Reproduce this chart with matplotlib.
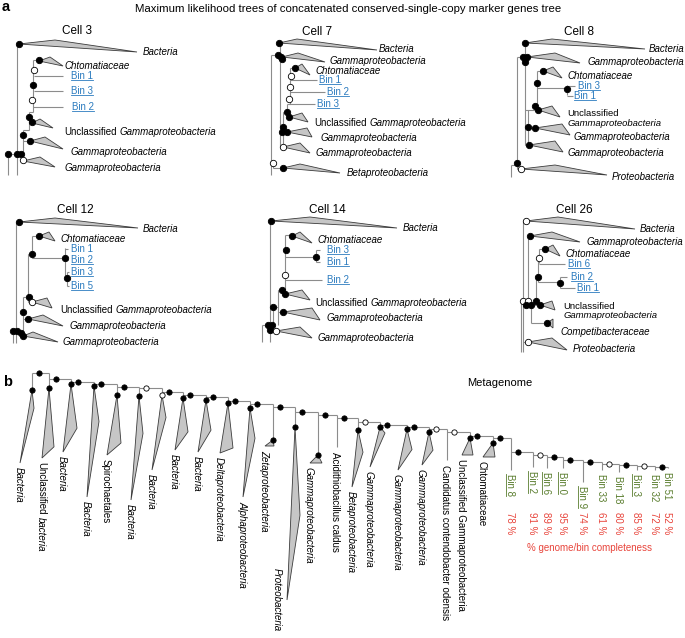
import matplotlib
matplotlib.use("Agg")
import matplotlib.pyplot as plt
from matplotlib.patches import Polygon

plt.rcParams['font.family'] = ['Liberation Sans', 'DejaVu Sans']

LINE = '#8c8c8c'
TRI_FACE = '#c6c6c6'
TRI_EDGE = '#3c3c3c'
BLUE = '#2b7bbf'
GREEN = '#5a7d2e'
RED = '#e8453c'

# ---- panel a: one small tree per cell (local pixel units inside each panel)
cell_titles = ["Cell 3", "Cell 7", "Cell 8", "Cell 12", "Cell 14", "Cell 26"]
cell_offsets = [(0, 0), (230, 0), (455, 0), (0, 205), (230, 205), (455, 205)]
cell_title_pos = [(77, 31), (87, 32), (124, 32), (75, 5), (97, 5), (119, 5)]

# branches: (x0, y0, x1, y1)
cell3_segs = [(17, 44, 17, 175), (8, 154, 8, 175), (8, 154, 23, 154), (17, 44, 19, 44),
              (23, 130, 23, 161), (23, 141, 30, 141), (23, 130, 29, 130), (29, 112, 29, 130),
              (29, 122, 32, 122), (29, 112, 33, 112), (33, 60, 33, 112), (33, 60, 39, 60)]
cell7_segs = [(41, 55, 41, 175), (41, 55, 50, 55), (50, 43, 50, 147), (41, 163, 43, 163),
              (43, 163, 43, 168), (43, 168, 53, 168), (60, 68, 60, 104), (60, 68, 65, 68),
              (57, 104, 57, 117), (57, 104, 60, 104), (53, 112, 53, 147), (53, 112, 57, 112),
              (57, 117, 59, 117), (53, 132, 57, 132), (50, 147, 53, 147), (50, 127, 53, 127)]
cell8_segs = [(62, 57, 62, 169), (56, 165, 56, 177), (56, 165, 62, 165), (62, 57, 70, 57),
              (70, 43, 70, 145), (62, 169, 66, 169), (82, 71, 82, 110), (82, 71, 88, 71),
              (82, 88, 112, 88), (112, 85, 112, 95), (73, 110, 73, 145), (70, 110, 83, 110),
              (73, 128, 80, 128), (70, 145, 74, 145)]
cell12_segs = [(16, 17, 16, 138), (13, 126, 13, 138), (13, 126, 23, 126), (16, 17, 19, 17),
               (32, 31, 32, 53), (32, 31, 39, 31), (32, 53, 65, 53), (65, 43, 65, 73),
               (65, 73, 67, 73), (67, 67, 67, 81), (28, 49, 28, 97), (28, 49, 32, 49),
               (28, 97, 32, 97), (23, 92, 23, 131), (23, 92, 28, 92), (23, 114, 28, 114)]
cell14_segs = [(40, 16, 40, 137), (32, 120, 32, 137), (32, 120, 43, 120), (40, 16, 41, 16),
               (55, 30, 55, 85), (55, 30, 62, 30), (55, 52, 86, 52), (86, 45, 86, 57),
               (48, 85, 48, 120), (48, 85, 55, 85), (52, 89, 55, 89), (43, 102, 43, 126),
               (43, 102, 48, 102), (48, 107, 53, 107), (40, 126, 46, 126)]
cell26_segs = [(68, 16, 68, 147), (66, 97, 66, 147), (68, 16, 71, 16), (73, 31, 73, 100),
               (73, 31, 75, 31), (84, 44, 84, 58), (84, 44, 90, 44), (83, 53, 83, 77),
               (83, 77, 105, 77), (105, 72, 105, 83), (81, 72, 81, 100), (81, 72, 83, 72),
               (76, 100, 76, 118), (76, 118, 92, 118), (68, 137, 73, 137), (73, 100, 85, 100)]

# support values: (x, y, filled)
cell3_dots = [(19, 44, 1), (39, 60, 1), (34, 70, 0), (33, 85, 1), (32, 100, 0), (29, 117, 1),
              (32, 122, 1), (23, 135, 1), (30, 141, 1), (8, 154, 1), (17, 154, 1), (21, 154, 1),
              (23, 160, 0)]
cell7_dots = [(49, 43, 1), (48, 55, 1), (51, 57, 1), (52, 59, 1), (65, 68, 1), (61, 76, 0),
              (60, 87, 0), (59, 99, 0), (57, 112, 1), (59, 117, 1), (53, 127, 1), (52, 132, 1),
              (57, 132, 1), (53, 147, 0), (43, 163, 0), (53, 168, 1)]
cell8_dots = [(70, 43, 1), (68, 57, 1), (72, 57, 1), (70, 62, 1), (88, 71, 1), (82, 83, 1),
              (112, 89, 1), (80, 106, 1), (83, 110, 1), (73, 127, 1), (80, 128, 1), (74, 145, 1),
              (62, 163, 1), (66, 169, 0)]
cell12_dots = [(19, 17, 1), (39, 31, 1), (32, 49, 1), (65, 53, 1), (67, 73, 1), (29, 92, 1),
               (32, 97, 0), (23, 107, 1), (28, 114, 1), (13, 126, 1), (17, 126, 1), (21, 128, 1),
               (23, 131, 1)]
cell14_dots = [(41, 16, 1), (62, 31, 1), (56, 45, 1), (86, 52, 1), (55, 70, 0), (52, 85, 1),
               (55, 89, 1), (43, 102, 1), (53, 107, 1), (38, 120, 1), (42, 120, 1), (40, 125, 1),
               (46, 126, 0)]
cell26_dots = [(71, 16, 0), (75, 31, 1), (90, 44, 1), (84, 53, 0), (83, 72, 1), (105, 78, 1),
               (68, 96, 0), (73, 96, 0), (71, 100, 1), (76, 100, 1), (81, 96, 1), (85, 100, 1),
               (92, 118, 1), (73, 137, 0)]

# collapsed clades: (name, node x, node y, upper x, tip x, tip y, label x, label y, style)
cell3_clades = [("Bacteria", 19, 44, 55, 137, 52, 143, 52, 'i'),
                ("Chtomatiaceae", 39, 61, 50, 63, 66, 64, 66, 'i'),
                ("Gammaproteobacteria", 32, 123, 40, 53, 128, 64, 132, 'u'),
                ("Gammaproteobacteria", 30, 141, 45, 63, 149, 71, 152, 'i'),
                ("Gammaproteobacteria", 23, 161, 40, 55, 167, 65, 168, 'i')]
cell7_clades = [("Bacteria", 49, 43, 67, 147, 50, 149, 49, 'i'),
                ("Gammaproteobacteria", 52, 57, 68, 95, 62, 100, 61, 'i'),
                ("Chtomatiaceae", 65, 68, 72, 80, 75, 85, 71, 'i'),
                ("Gammaproteobacteria", 59, 117, 72, 78, 122, 84, 123, 'u'),
                ("Gammaproteobacteria", 57, 132, 77, 82, 137, 91, 138, 'i'),
                ("Gammaproteobacteria", 53, 147, 70, 80, 153, 86, 153, 'i'),
                ("Betaproteobacteria", 53, 168, 70, 110, 173, 117, 173, 'i')]
cell8_clades = [("Bacteria", 70, 43, 97, 190, 49, 194, 49, 'i'),
                ("Gammaproteobacteria", 72, 57, 100, 125, 63, 133, 62, 'i'),
                ("Chtomatiaceae", 88, 71, 98, 107, 78, 112, 76, 'i'),
                ("Gammaproteobacteria", 83, 110, 97, 105, 117, 112, 118.5, 'u2'),
                ("Gammaproteobacteria", 80, 128, 107, 115, 135, 119, 137, 'i'),
                ("Gammaproteobacteria", 74, 145, 100, 108, 152, 113, 153, 'i'),
                ("Proteobacteria", 66, 169, 100, 152, 175, 157, 177, 'i')]
cell12_clades = [("Bacteria", 19, 17, 55, 138, 23, 143, 24, 'i'),
                 ("Chtomatiaceae", 39, 31, 49, 55, 36, 60, 34, 'i'),
                 ("Gammaproteobacteria", 32, 97, 47, 52, 103, 60, 105, 'u'),
                 ("Gammaproteobacteria", 28, 114, 43, 63, 121, 70, 121, 'i'),
                 ("Gammaproteobacteria", 23, 131, 33, 58, 137, 63, 137, 'i')]
cell14_clades = [("Bacteria", 41, 16, 80, 167, 23, 173, 23, 'i'),
                 ("Chtomatiaceae", 62, 31, 70, 82, 38, 87, 35, 'i'),
                 ("Gammaproteobacteria", 55, 89, 72, 80, 95, 85, 98, 'u'),
                 ("Gammaproteobacteria", 53, 107, 82, 90, 115, 97, 113, 'i'),
                 ("Gammaproteobacteria", 46, 126, 70, 82, 133, 88, 133, 'i')]
cell26_clades = [("Bacteria", 71, 16, 103, 180, 24, 185, 24, 'i'),
                 ("Gammaproteobacteria", 75, 31, 97, 125, 37, 132, 37, 'i'),
                 ("Chtomatiaceae", 90, 44, 98, 105, 51, 110, 49, 'i'),
                 ("Gammaproteobacteria", 85, 100, 97, 100, 105, 108, 106, 'u2'),
                 ("Competibacteraceae", 92, 118, 98, 98, 123, 105, 127, 'i'),
                 ("Proteobacteria", 73, 137, 97, 112, 145, 118, 144, 'i')]

# single bins: (name, y, x0, x1, label x, underlined)
cell3_bins = [("Bin 1", 76, 34, 63, 71, 1), ("Bin 3", 91, 34, 63, 71, 1), ("Bin 2", 107, 33, 63, 72, 1)]
cell7_bins = [("Bin 1", 80, 60, 87, 89, 1), ("Bin 2", 92, 60, 95, 97, 1), ("Bin 3", 104, 59, 85, 87, 1)]
cell8_bins = [("Bin 3", 86, 112, 120, 123, 1), ("Bin 1", 96, 112, 118, 119, 1)]
cell12_bins = [("Bin 1", 44, 65, 68, 71, 0), ("Bin 2", 55, 65, 68, 71, 1),
               ("Bin 3", 67, 67, 69, 71, 1), ("Bin 5", 81, 67, 69, 71, 1)]
cell14_bins = [("Bin 3", 45, 86, 90, 97, 1), ("Bin 1", 57, 86, 90, 97, 1), ("Bin 2", 75, 55, 92, 97, 1)]
cell26_bins = [("Bin 6", 59, 84, 110, 113, 1), ("Bin 2", 72, 105, 112, 116, 1), ("Bin 1", 83, 105, 120, 122, 1)]

cell_segs = [cell3_segs, cell7_segs, cell8_segs, cell12_segs, cell14_segs, cell26_segs]
cell_dots = [cell3_dots, cell7_dots, cell8_dots, cell12_dots, cell14_dots, cell26_dots]
cell_clades = [cell3_clades, cell7_clades, cell8_clades, cell12_clades, cell14_clades, cell26_clades]
cell_bins = [cell3_bins, cell7_bins, cell8_bins, cell12_bins, cell14_bins, cell26_bins]

# ---- panel b: metagenome ladder tree, leaves left to right
b_names = ["Bacteria", "Unclassified bacteria", "Bacteria", "Bacteria", "Spirochaetales",
           "Bacteria", "Bacteria", "Bacteria", "Bacteria", "Deltaproteobacteria",
           "Alphaproteobacteria", "Zetaproteobacteria", "Proteobacteria", "Gammaproteobacteria",
           "Acidithiobacillus caldus", "Betaproteobacteria", "Gammaproteobacteria",
           "Gammaproteobacteria", "Gammaproteobacteria", "Candidatus contendobacter odensis",
           "Unclassified Gammaproteobacteria", "Chtomatiaceae"]
b_style = ['i', 'u', 'i', 'i', 'n', 'i', 'i', 'i', 'i', 'i', 'i', 'i', 'i', 'i', 'n',
           'i', 'i', 'i', 'i', 'n', 'n', 'n']
b_bins = ["Bin 8", "Bin 2", "Bin 6", "Bin 0", "Bin 9", "Bin 33", "Bin 18", "Bin 3", "Bin 32", "Bin 51"]
b_bin_ul = [1, 1, 1, 1, 1, 0, 0, 1, 0, 0]
b_complete = [78, 91, 89, 95, 74, 61, 80, 85, 72, 52]

b_x = [32, 49, 71, 94, 117, 139, 162, 183, 206, 228, 250, 273, 295, 318, 337, 358, 380, 407,
       429, 447, 470, 493, 511, 533, 547, 563, 583, 602, 619, 637, 655, 668]
b_node_y = [373, 379, 382, 384, 387, 388, 392, 395, 397, 401, 404, 407, 412, 415, 418, 422,
            425, 427, 429, 432, 436, 438, 452, 455, 457, 460, 462, 464, 465, 466, 467]
b_apex = [390, 388, 384, 386, 395, 396, 395, 398, 400, 403, 408, 440, 427, 455, None, 430,
          427, 429, 432, None, 438, 443]
b_tip = [463, 458, 452, 497, 455, 500, 470, 450, 452, 453, 497, 446, 600, 463, 447, 487,
         467, 470, 465, 460, 455, 457]
b_tip_dx = [-12, -7, -8, -7, -10, -8, -10, -8, -8, -8, -7, -8, -8, -8, 0, -6, -10, -9, -7, 0, -8, -10]
b_right = [(2, 0.25), (5, 0.84), (6, 0.65), (5, 0.32), (4, 0.8), (4, 0.36), (4, 0.3), (5, 0.65),
           (5, 0.58), (5, 0.9), (5, 0.34), (1, 1.0), (5, 0.51), (4, 1.0), None, (5, 0.39),
           (5, 0.15), (5, 0.5), (4, 0.55), None, (3, 1.0), (2, 1.0)]
b_bin_end = [470, 467, 468, 468, 482, 470, 472, 470, 470, 468]
b_node_fill = [1, 1, 1, 1, 1, 0, 1, 1, 1, 1, 1, 1, 1, 1, 1, 0, 1, 1, 0, 0, 1, 1, 1, 0, 1, 1,
               1, 0, 1, 0, 1]
b_apex_fill = [1, 1, 1, 1, 1, 1, 0, 1, 1, 1, 1, 1, 1, 1, None, 1, 1, 1, 1, None, 1, 1]
b_label_override = {12: (277, 568)}

fig = plt.figure(figsize=(6.85, 6.38), dpi=100)
ax = fig.add_axes([0, 0, 1, 1])
ax.set_xlim(0, 685)
ax.set_ylim(638, 0)
ax.axis('off')
renderer = fig.canvas.get_renderer()


def write(x, y, parts, fs=7, color='k', rot=0, underline=False, gap=2.7):
    for s, it in parts:
        t = ax.text(x, y, s, fontsize=fs, color=color, fontstyle='italic' if it else 'normal',
                    rotation=rot, rotation_mode='anchor', ha='left', va='center')
        bb = t.get_window_extent(renderer)
        inv = ax.transData.inverted()
        (x0, yb), (x1, yt) = inv.transform([(bb.x0, bb.y0), (bb.x1, bb.y1)])
        if underline:
            if rot == 0:
                ax.plot([x0, x1], [yb - 1.3, yb - 1.3], color=color, lw=0.6)
            else:
                ax.plot([x0 + 1.3, x0 + 1.3], [yt, yb], color=color, lw=0.6)
        if rot == 0:
            x = x1 + gap
        else:
            y = yb + gap


def seg(x0, y0, x1, y1):
    ax.plot([x0, x1], [y0, y1], color=LINE, lw=0.8, zorder=1, solid_capstyle='butt')


def dot(x, y, filled, ms=4.6):
    ax.plot(x, y, 'o', ms=ms, mfc='k' if filled else 'w', mec='k', mew=0.6, zorder=4)


# titles
ax.text(2, 7, "a", fontsize=10.5, fontweight='bold', va='center', ha='left')
ax.text(348, 9, "Maximum likelihood trees of concatenated conserved-single-copy marker genes tree",
        fontsize=8.2, ha='center', va='center')

for k in range(6):
    ox, oy = cell_offsets[k]
    tx, ty = cell_title_pos[k]
    ax.text(ox + tx, oy + ty, cell_titles[k], fontsize=8.5, ha='center', va='center')
    for x0, y0, x1, y1 in cell_segs[k]:
        seg(ox + x0, oy + y0, ox + x1, oy + y1)
    for name, y, x0, x1, lx, ul in cell_bins[k]:
        seg(ox + x0, oy + y, ox + x1, oy + y)
        write(ox + lx, oy + y, [(name, False)], color=BLUE, underline=bool(ul))
    for name, nx, ny, ux, cx, cy, lx, ly, st in cell_clades[k]:
        ax.add_patch(Polygon([(ox + nx, oy + ny), (ox + ux, oy + ny - 4), (ox + cx, oy + cy)],
                             closed=True, fc=TRI_FACE, ec=TRI_EDGE, lw=0.6, zorder=2))
        if st == 'i':
            write(ox + lx, oy + ly, [(name, True)])
        elif st == 'u':
            write(ox + lx, oy + ly, [("Unclassified", False), (name, True)])
        else:
            write(ox + lx, oy + ly - 4.6, [("Unclassified", False)], fs=6.8)
            write(ox + lx + 1, oy + ly + 4.6, [(name, True)], fs=6.8)
    for x, y, f in cell_dots[k]:
        dot(ox + x, oy + y, f)

# panel b
ax.text(3, 382, "b", fontsize=10.5, fontweight='bold', va='center', ha='left')
ax.text(500, 383, "Metagenome", fontsize=8, ha='center', va='center')

n = len(b_x)
for i in range(n):
    x = b_x[i]
    top = b_node_y[max(i - 1, 0)]
    if i < n - 1:
        seg(x, b_node_y[i], b_x[i + 1], b_node_y[i])
        dot(x + 7, b_node_y[i], b_node_fill[i], ms=3.8)
    if i < len(b_names):
        apex = b_apex[i]
        if apex is None:
            seg(x, top, x, b_tip[i])
            lx, ly = x - 2, b_tip[i] + 5
        else:
            seg(x, top, x, apex)
            rdx, frac = b_right[i]
            tipx = x + b_tip_dx[i]
            ax.add_patch(Polygon([(x, apex), (x + rdx, apex + frac * (b_tip[i] - apex)),
                                  (tipx, b_tip[i])], closed=True, fc=TRI_FACE, ec=TRI_EDGE,
                                 lw=0.6, zorder=2))
            dot(x, apex, b_apex_fill[i], ms=3.8)
            lx, ly = tipx - 1, b_tip[i] + 4
        lx, ly = b_label_override.get(i, (lx, ly))
        if b_style[i] == 'u':
            first, rest = b_names[i].split(' ', 1)
            write(lx, ly, [(first, False), (rest, True)], rot=270)
        else:
            write(lx, ly, [(b_names[i], b_style[i] == 'i')], rot=270)
    else:
        j = i - len(b_names)
        seg(x, top, x, b_bin_end[j])
        write(x - 1, b_bin_end[j] + 4, [(b_bins[j], False)], rot=270, color=GREEN,
              underline=bool(b_bin_ul[j]))
        write(x - 1, 512, [(f"{b_complete[j]} %", False)], rot=270, color=RED)

ax.text(590, 548, "% genome/bin completeness", fontsize=7, color=RED, ha='center', va='center')

fig.savefig("out.png", dpi=100)
